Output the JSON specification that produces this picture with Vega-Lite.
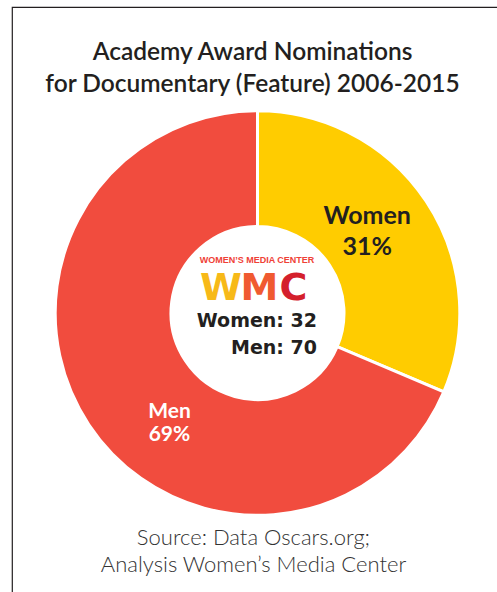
{
  "$schema": "https://vega.github.io/schema/vega-lite/v6.json",
  "width": 491,
  "height": 612,
  "autosize": {"type": "none"},
  "padding": {"left": 12, "top": 7, "right": 0, "bottom": 0},
  "background": "white",
  "view": {"stroke": "#231f20", "strokeWidth": 1.2, "fill": "white"},
  "title": {
    "text": ["Academy Award Nominations", "for Documentary (Feature) 2006-2015"],
    "font": "Lato",
    "fontWeight": 600,
    "fontSize": 24.5,
    "lineHeight": 32,
    "color": "#231f20",
    "anchor": "middle",
    "frame": "group",
    "offset": -90,
    "dx": -5
  },
  "data": {
    "values": [
      {"gender": "Women", "count": 32, "label": "Women\n31%"},
      {"gender": "Men", "count": 70, "label": "Men\n69%"}
    ]
  },
  "layer": [
    {
      "mark": {"type": "arc", "outerRadius": 202.3, "innerRadius": 86.5, "stroke": "white", "strokeWidth": 3},
      "encoding": {
        "theta": {"field": "count", "type": "quantitative", "stack": true},
        "order": {"field": "count", "sort": "ascending"},
        "color": {
          "field": "gender",
          "type": "nominal",
          "scale": {"domain": ["Women", "Men"], "range": ["#FFCC00", "#F14C3E"]},
          "legend": null
        }
      }
    },
    {
      "mark": {"type": "text", "radius": 140, "dx": -7, "dy": -20, "font": "Lato", "fontWeight": "bold", "fontSize": 25, "lineBreak": "\n", "lineHeight": 31, "baseline": "middle", "align": "center", "color": "#231f20"},
      "encoding": {
        "theta": {"field": "count", "type": "quantitative", "stack": true},
        "order": {"field": "count", "sort": "ascending"},
        "text": {"condition": {"test": "datum.gender === 'Women'", "field": "label"}, "value": ""}
      }
    },
    {
      "mark": {"type": "text", "radius": 144, "dx": 32, "dy": 19, "font": "Lato", "fontWeight": "bold", "fontSize": 21, "lineBreak": "\n", "lineHeight": 23, "baseline": "middle", "align": "center", "color": "white"},
      "encoding": {
        "theta": {"field": "count", "type": "quantitative", "stack": true},
        "order": {"field": "count", "sort": "ascending"},
        "text": {"condition": {"test": "datum.gender === 'Men'", "field": "label"}, "value": ""}
      }
    },
    {
      "data": {"values": [{"part": "logo"}]},
      "layer": [
        {
          "mark": {"type": "text", "text": "WOMEN’S MEDIA CENTER", "font": "Liberation Sans", "fontWeight": "bold", "fontSize": 9, "align": "center", "baseline": "alphabetic", "dx": -0.5, "dy": -50.5, "color": "#EF4136"},
          "encoding": {}
        },
        {
          "mark": {"type": "text", "text": "W", "font": "DejaVu Sans", "fontWeight": "bold", "fontSize": 38, "align": "left", "baseline": "alphabetic", "dx": -57.5, "dy": -13, "color": "#F7B918"},
          "encoding": {}
        },
        {
          "mark": {"type": "text", "text": "M", "font": "DejaVu Sans", "fontWeight": "bold", "fontSize": 38, "align": "left", "baseline": "alphabetic", "dx": -17, "dy": -13, "color": "#F05A30"},
          "encoding": {}
        },
        {
          "mark": {"type": "text", "text": "C", "font": "DejaVu Sans", "fontWeight": "bold", "fontSize": 38, "align": "left", "baseline": "alphabetic", "dx": 22, "dy": -13, "color": "#D4202C"},
          "encoding": {}
        },
        {
          "mark": {"type": "text", "text": "Women: 32\nMen: 70", "lineBreak": "\n", "lineHeight": 27, "font": "DejaVu Sans", "fontWeight": "bold", "fontSize": 19, "align": "right", "baseline": "alphabetic", "dx": 59.5, "dy": 14, "color": "#231f20"},
          "encoding": {}
        },
        {
          "mark": {"type": "text", "text": "Source: Data Oscars.org;\nAnalysis Women’s Media Center", "lineBreak": "\n", "lineHeight": 27, "font": "Lato", "fontWeight": 300, "fontSize": 22, "align": "center", "baseline": "alphabetic", "dx": -4, "dy": 232, "color": "#333333"},
          "encoding": {}
        }
      ]
    }
  ]
}
